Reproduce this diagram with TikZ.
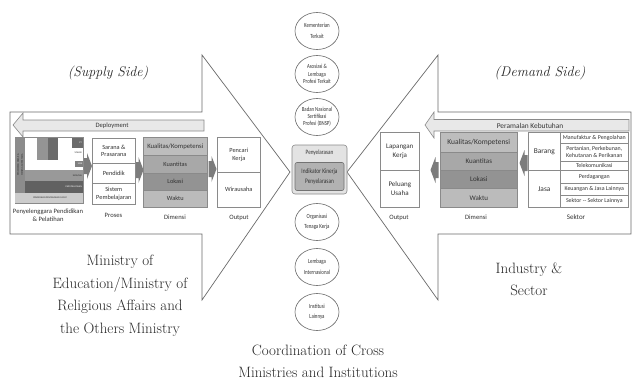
\documentclass[tikz,border=0pt]{standalone}
\usepackage{fontspec}
\usetikzlibrary{shapes.geometric}
\newfontfamily\boxfont{Carlito}
\newfontfamily\ellfont[FakeStretch=0.78]{Carlito}
\definecolor{lc}{HTML}{6A6A6A}
\definecolor{bc}{HTML}{8A8A8A}
\definecolor{tc}{HTML}{333333}
\definecolor{dA}{HTML}{BDBDBD}
\definecolor{dB}{HTML}{A8A8A8}
\definecolor{dC}{HTML}{939393}
\definecolor{dD}{HTML}{BBBBBB}
\definecolor{barf}{HTML}{E8E8E8}
\definecolor{ga}{HTML}{7C7C7C}
\tikzset{
 outl/.style={draw=lc, line width=0.7},
 cell/.style={draw=bc, line width=0.6, anchor=north west, inner sep=0, align=center,
   font=\boxfont\fontsize{6.3}{7.4}\selectfont, text=tc},
 lbl/.style={font=\boxfont\fontsize{6.6}{7.8}\selectfont, text=tc, align=center, inner sep=0},
 ell/.style={ellipse, draw=lc, line width=0.6, minimum width=44, minimum height=37, inner sep=0,
   align=center, text=tc},
 etwo/.style={font=\ellfont\fontsize{6.3}{10.5}\selectfont},
 ethree/.style={font=\ellfont\fontsize{6.2}{7.2}\selectfont},
 big/.style={font=\fontsize{15}{22.5}\selectfont, align=center, text=black!85, inner sep=0},
 side/.style={font=\itshape\fontsize{14}{16}\selectfont, text=black!85, inner sep=0},
 tiny/.style={font=\boxfont\fontsize{2.4}{2.8}\selectfont, inner sep=0},
 barst/.style={draw=bc, line width=0.6, fill=barf},
 rarr/.pic={\fill[ga] (0,-8) -- (3,-8) -- (3,-13) -- (8,0) -- (3,13) -- (3,8) -- (0,8) -- cycle;},
 larr/.pic={\fill[ga] (0,-8) -- (-3,-8) -- (-3,-13) -- (-8,0) -- (-3,13) -- (-3,8) -- (0,8) -- cycle;},
}
\begin{document}
\begin{tikzpicture}[x=1pt,y=-1pt]
\useasboundingbox (0,0) rectangle (637,383);
\fill[white] (0,0) rectangle (637,383);

% big arrows
\draw[outl] (10,112) -- (202,112) -- (202,55) -- (290,172) -- (202,300) -- (202,234) -- (10,234) -- cycle;
\draw[outl] (631,112) -- (438,112) -- (438,55) -- (347,172) -- (438,300) -- (438,234) -- (631,234) -- cycle;

% side titles
\node[side] (sup) at (108,73) {(Supply Side)};
\node[side] (dem) at (540,73) {(Demand Side)};

% Deployment bar
\draw[barst] (13,125) -- (23,113) -- (23,120) -- (204,120) -- (204,131) -- (23,131) -- (23,137) -- cycle;
\node[lbl] (dep) at (112,125.5) {Deployment};

% Peramalan bar
\draw[barst] (425,125) -- (434,112) -- (434,119.5) -- (629,119.5) -- (629,131) -- (434,131) -- (434,138) -- cycle;
\node[font=\boxfont\fontsize{7.4}{8}\selectfont, text=tc, inner sep=0] (per) at (530,125.5) {Peramalan Kebutuhan};

% left chart
\draw[bc, line width=0.4, fill=white] (15,137.5) rectangle (83,203);
\fill[black!45] (15,137.5) rectangle (25,193);
\node[tiny, rotate=90, text=black!85] (s1) at (18,165) {PENDIDIKAN DASAR \&};
\node[tiny, rotate=90, text=black!85] (s2) at (22,165) {MENENGAH PERTAMA};
\fill[black!42] (37,138) rectangle (48,160);
\fill[black!58] (48,138) rectangle (58,160);
\fill[black!58] (72,138) rectangle (83,148);
\node[tiny, anchor=east, text=white] (pt) at (82,143) {PT};
\node[tiny, anchor=east, text=black!80] (vok) at (82,153) {VOKASI};
\fill[black!50] (75,161) rectangle (83,167);
\node[tiny, anchor=east, text=white] (smk) at (82.5,164) {SMK};
\fill[black!40] (25,170) rectangle (83,181);
\node[tiny, anchor=east, text=black!85] (sma) at (82,175.5) {SMA/MA};
\fill[black!62] (25,181) rectangle (83,192.5);
\node[tiny, anchor=east, text=white] (papi) at (82,187) {PAPI/PELATIHAN};
\fill[black!20] (15,193) rectangle (83,203);
\node[tiny, text=black!85] (ppc) at (50,198) {PENDIDIKAN PENYANDANG CACAT};
\node[lbl] (penl) at (48,215.5) {Penyelenggara Pendidikan\\\& Pelatihan};

% arrows (left)
\pic at (84,166) {rarr};
\pic at (135.5,170) {rarr};
\pic at (208.5,169) {rarr};

% Proses
\node[cell, minimum width=43, minimum height=25] (sar) at (92,138) {Sarana \&\\Prasarana};
\node[cell, minimum width=43, minimum height=20] (pend) at (92,163) {Pendidik};
\node[cell, minimum width=43, minimum height=21] (sis) at (92,183) {Sistem\\Pembelajaran};
\node[lbl] (prl) at (113.5,215) {Proses};

% Dimensi left
\node[cell, fill=dA, minimum width=64, minimum height=18, font=\boxfont\fontsize{6.7}{7.4}\selectfont] (lk1) at (143,137) {Kualitas/Kompetensi};
\node[cell, fill=dB, minimum width=64, minimum height=18] (lk2) at (143,155) {Kuantitas};
\node[cell, fill=dC, minimum width=64, minimum height=17] (lk3) at (143,173) {Lokasi};
\node[cell, fill=dD, minimum width=64, minimum height=17] (lk4) at (143,190) {Waktu};
\node[lbl] (ldl) at (175,217) {Dimensi};

% Output left
\node[cell, minimum width=43, minimum height=35] (pk) at (217,137) {Pencari\\Kerja};
\node[cell, minimum width=43, minimum height=35] (wu) at (217,172) {Wirausaha};
\node[lbl] (lol) at (239,217.5) {Output};

% Output right
\node[cell, minimum width=39, minimum height=38, font=\boxfont\fontsize{7}{9.5}\selectfont] (lap) at (380,132) {Lapangan\\Kerja};
\node[cell, minimum width=39, minimum height=37, font=\boxfont\fontsize{7}{9.5}\selectfont] (pu) at (380,170) {Peluang\\Usaha};
\node[lbl] (rol) at (399,217.5) {Output};
\pic at (438.5,170) {larr};

% Dimensi right
\node[cell, fill=dA, minimum width=77, minimum height=20, font=\boxfont\fontsize{7.5}{8}\selectfont] (rk1) at (440,132) {Kualitas/Kompetensi};
\node[cell, fill=dB, minimum width=77, minimum height=18, font=\boxfont\fontsize{7}{8}\selectfont] (rk2) at (440,152) {Kuantitas};
\node[cell, fill=dC, minimum width=77, minimum height=18, font=\boxfont\fontsize{7}{8}\selectfont] (rk3) at (440,170) {Lokasi};
\node[cell, fill=dD, minimum width=77, minimum height=19, font=\boxfont\fontsize{7}{8}\selectfont] (rk4) at (440,188) {Waktu};
\node[lbl] (rdl) at (476,217.5) {Dimensi};
\pic at (527.5,163) {larr};

% Sektor
\node[cell, minimum width=32, minimum height=38, font=\boxfont\fontsize{7.4}{8}\selectfont] (bar) at (528,132) {Barang};
\node[cell, minimum width=32, minimum height=37, font=\boxfont\fontsize{7.4}{8}\selectfont] (jas) at (528,170) {Jasa};
\tikzset{sk/.style={cell, minimum width=68, font=\boxfont\fontsize{5.9}{7}\selectfont}}
\node[sk, minimum height=11] (sk1) at (560,132) {Manufaktur \& Pengolahan};
\node[sk, minimum height=18] (sk2) at (560,143) {Pertanian, Perkebunan,\\Kehutanan \& Perikanan};
\node[sk, minimum height=9] (sk3) at (560,161) {Telekomunikasi};
\node[sk, minimum height=13] (sk4) at (560,170) {Perdagangan};
\node[sk, minimum height=12] (sk5) at (560,183) {Keuangan \& Jasa Lainnya};
\node[sk, minimum height=12] (sk6) at (560,195) {Sektor -- Sektor Lainnya};
\node[lbl, font=\boxfont\fontsize{7}{8}\selectfont] (skl) at (576,217.5) {Sektor};

% centre column
\node[ell, etwo] (e1) at (317,31) {Kementerian\\Terkait};
\node[ell, ethree] (e2) at (317,74) {Asosiasi \&\\Lembaga\\Profesi Terkait};
\node[ell, ethree] (e3) at (317,117) {Badan Nasional\\Sertifikasi\\Profesi (BNSP)};
\draw[draw=bc, line width=0.6, fill=black!11, rounded corners=3] (292,145) rectangle (347,194);
\node[font=\ellfont\fontsize{6.6}{7}\selectfont, text=tc, inner sep=0] (py) at (319.5,153) {Penyelarasan};
\node[draw=black!55, line width=0.6, fill=black!30, rounded corners=2, minimum width=49, minimum height=28,
  inner sep=0, align=center, text=tc, font=\ellfont\fontsize{6.9}{10.5}\selectfont] (ik) at (319.5,176.5) {Indikator Kinerja\\Penyelarasan};
\node[ell, etwo] (e4) at (317,222) {Organisasi\\Tenaga Kerja};
\node[ell, etwo] (e5) at (317,267) {Lembaga\\Internasional};
\node[ell, etwo] (e6) at (317,312) {Institusi\\Lainnya};

% big texts
\node[big] (min) at (120,296) {Ministry of\\Education/Ministry of\\Religious Affairs and\\the Others Ministry};
\node[big] (ind) at (529,279.5) {Industry \&\\Sector};
\node[big] (coo) at (318,361.5) {Coordination of Cross\\Ministries and Institutions};
\end{tikzpicture}
\end{document}
